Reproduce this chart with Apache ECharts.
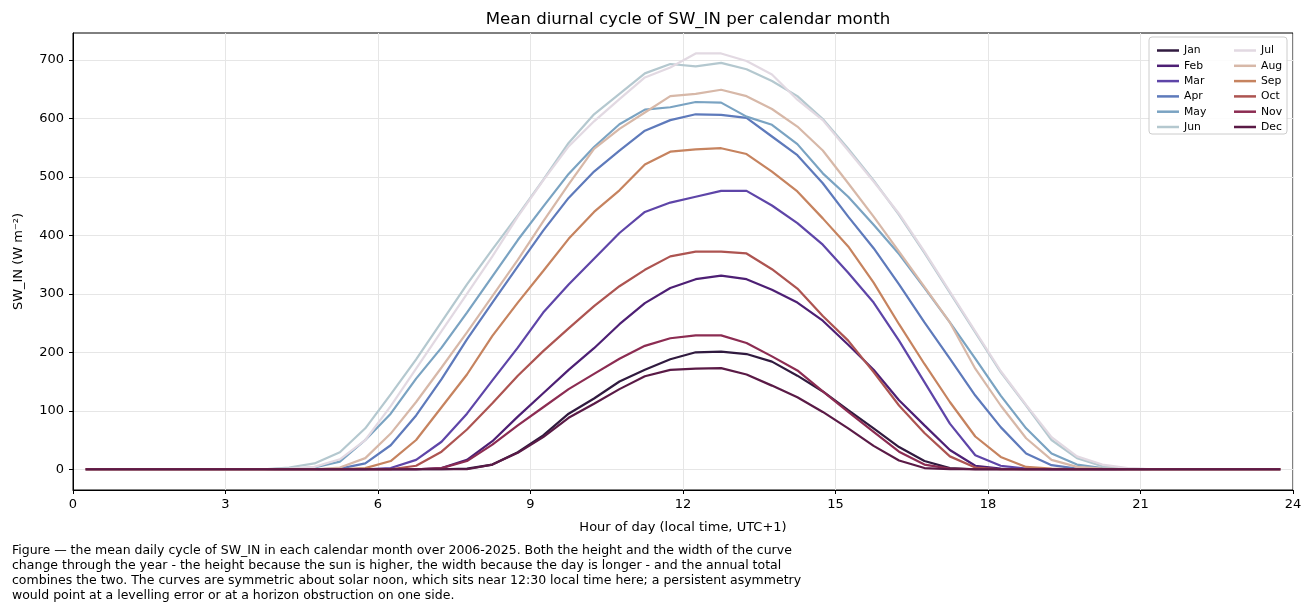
<!DOCTYPE html>
<html>
<head>
<meta charset="utf-8">
<title>Mean diurnal cycle of SW_IN</title>
<script src="https://cdn.jsdelivr.net/npm/echarts@6/dist/echarts.min.js"></script>
<style>
  html, body { margin: 0; padding: 0; background: #fff; }
  #chart { width: 1311px; height: 611px; }
</style>
</head>
<body>
<div id="chart"></div>
<script>
// half-hourly bin centres (local time, UTC+1)
const hours = [
  0.25, 0.75, 1.25, 1.75, 2.25, 2.75, 3.25, 3.75, 4.25, 4.75, 5.25, 5.75,
  6.25, 6.75, 7.25, 7.75, 8.25, 8.75, 9.25, 9.75, 10.25, 10.75, 11.25, 11.75,
  12.25, 12.75, 13.25, 13.75, 14.25, 14.75, 15.25, 15.75, 16.25, 16.75, 17.25, 17.75,
  18.25, 18.75, 19.25, 19.75, 20.25, 20.75, 21.25, 21.75, 22.25, 22.75, 23.25, 23.75
]

const months = ['Jan', 'Feb', 'Mar', 'Apr', 'May', 'Jun', 'Jul', 'Aug', 'Sep', 'Oct', 'Nov', 'Dec']

// mean SW_IN (W m-2) per half hour, one array per month
const jan = [0,0,0,0,0,0,0,0,0,0,0,0,0,0,0,1,8,29,58,95,121,150,170,188,200,201,197,184,160,133,101,70,38,14,2,0,0,0,0,0,0,0,0,0,0,0,0,0]
const feb = [0,0,0,0,0,0,0,0,0,0,0,0,0,0,2,16,48,90,130,170,207,248,284,310,325,331,325,307,285,254,213,170,118,75,33,6,1,0,0,0,0,0,0,0,0,0,0,0]
const mar = [0,0,0,0,0,0,0,0,0,0,0,0,2,16,47,95,152,208,268,316,360,404,440,456,466,476,476,451,421,384,336,285,220,149,78,24,6,1,0,0,0,0,0,0,0,0,0,0]
const apr = [0,0,0,0,0,0,0,0,0,0,1,10,41,92,154,222,285,347,408,464,509,545,579,597,607,606,601,569,537,489,432,378,316,251,189,126,72,27,7,1,0,0,0,0,0,0,0,0]
const may = [0,0,0,0,0,0,0,0,1,3,13,50,95,155,208,268,330,392,449,505,551,590,615,619,628,627,603,589,556,506,466,418,368,310,251,189,126,70,27,8,2,0,0,0,0,0,0,0]
const jun = [0,0,0,0,0,0,0,0,3,10,29,70,128,188,252,316,376,434,495,558,607,642,677,693,689,695,684,664,638,599,548,494,435,370,302,234,166,109,50,19,5,1,0,0,0,0,0,0]
const jul = [0,0,0,0,0,0,0,0,1,4,17,50,108,172,236,300,364,432,494,552,595,633,670,687,711,711,698,675,632,597,545,492,437,372,304,236,168,110,55,22,8,2,0,0,0,0,0,0]
const aug = [0,0,0,0,0,0,0,0,0,0,3,19,61,115,174,234,296,358,424,487,548,582,610,638,642,649,638,616,586,545,489,432,372,312,251,172,109,53,16,4,1,0,0,0,0,0,0,0]
const sep = [0,0,0,0,0,0,0,0,0,0,0,2,14,50,106,162,228,285,339,394,440,477,521,543,547,549,539,509,475,429,381,319,248,180,115,56,21,4,1,0,0,0,0,0,0,0,0,0]
const oct = [0,0,0,0,0,0,0,0,0,0,0,0,0,6,30,68,113,160,202,241,279,313,341,364,372,372,369,342,309,262,220,166,109,62,22,3,0,0,0,0,0,0,0,0,0,0,0,0]
const nov = [0,0,0,0,0,0,0,0,0,0,0,0,0,0,2,14,42,75,106,137,163,189,211,224,229,229,216,193,169,133,98,64,30,8,1,0,0,0,0,0,0,0,0,0,0,0,0,0]
const dec = [0,0,0,0,0,0,0,0,0,0,0,0,0,0,0,0,8,28,55,88,112,137,159,170,172,173,162,143,123,98,70,40,15,2,0,0,0,0,0,0,0,0,0,0,0,0,0,0]

const monthValues = [jan, feb, mar, apr, may, jun, jul, aug, sep, oct, nov, dec]

// twilight_shifted sampled per month
const monthColors = [
  '#301a3f', '#4d1f74', '#5e45a8', '#5e7abb', '#7aa3c2', '#b4c8cf',
  '#e2d9e2', '#d7b8a8', '#c6835f', '#ad5451', '#8c2c52', '#5a1a46'
]

const yTicks = [0, 100, 200, 300, 400, 500, 600, 700]

const caption = [
  'Figure \u2014 the mean daily cycle of SW_IN in each calendar month over 2006-2025. Both the height and the width of the curve',
  'change through the year - the height because the sun is higher, the width because the day is longer - and the annual total',
  'combines the two. The curves are symmetric about solar noon, which sits near 12:30 local time here; a persistent asymmetry',
  'would point at a levelling error or at a horizon obstruction on one side.'
].join('\n')

const font = 'DejaVu Sans'

const series = months.map((m, i) => ({
  name: m,
  type: 'line',
  data: hours.map((h, k) => [h, monthValues[i][k]]),
  symbol: 'none',
  color: monthColors[i],
  lineStyle: { width: 2.2, color: monthColors[i] },
  animation: false
}))

const legendBase = {
  orient: 'vertical',
  icon: 'rect',
  itemWidth: 22,
  itemHeight: 2.5,
  itemGap: 4.3,
  z: 10,
  textStyle: { fontFamily: font, fontSize: 10.8, color: '#000', lineHeight: 11 }
}

const option = {
  backgroundColor: '#fff',
  animation: false,
  title: {
    text: 'Mean diurnal cycle of SW_IN per calendar month',
    left: 683,
    top: 6,
    textAlign: 'center',
    textStyle: { fontFamily: font, fontSize: 16.6, fontWeight: 'normal', color: '#000' }
  },
  grid: {
    left: 73, right: 18, top: 33, bottom: 121,
    show: true, borderColor: '#000', borderWidth: 1
  },
  legend: [
    Object.assign({ data: months.slice(0, 6), left: 1152, top: 40 }, legendBase),
    Object.assign({ data: months.slice(6), left: 1229, top: 40 }, legendBase)
  ],
  xAxis: {
    type: 'value',
    min: 0,
    max: 24,
    interval: 3,
    name: 'Hour of day (local time, UTC+1)',
    nameLocation: 'middle',
    nameGap: 31,
    nameTextStyle: { fontFamily: font, fontSize: 13, color: '#000' },
    axisLine: { show: true, onZero: false, lineStyle: { color: '#000', width: 1 } },
    axisTick: { show: true, inside: false, length: 4, lineStyle: { color: '#000' } },
    axisLabel: { fontFamily: font, fontSize: 13, color: '#000', margin: 8, showMinLabel: true, showMaxLabel: true },
    splitLine: { show: true, lineStyle: { color: '#e6e6e6', width: 1 } }
  },
  yAxis: {
    type: 'value',
    min: -35.5,
    max: 746,
    name: 'SW_IN (W m\u207b\u00b2)',
    nameLocation: 'middle',
    nameRotate: 90,
    nameGap: 48,
    nameTextStyle: { fontFamily: font, fontSize: 13, color: '#000' },
    axisLine: { show: true, onZero: false, lineStyle: { color: '#000', width: 1 } },
    axisTick: { show: true, inside: false, length: 4, customValues: yTicks, lineStyle: { color: '#000' } },
    axisLabel: { fontFamily: font, fontSize: 13, color: '#000', margin: 9, customValues: yTicks },
    splitLine: { show: true, lineStyle: { color: '#e6e6e6', width: 1 } }
  },
  graphic: [
    {
      type: 'rect',
      z: 9,
      shape: { x: 1149, y: 37, width: 138, height: 97, r: 3 },
      style: { fill: 'rgba(255,255,255,0.85)', stroke: '#cccccc', lineWidth: 1 }
    },
    {
      type: 'text',
      left: 12,
      top: 543,
      style: {
        text: caption,
        fontFamily: font,
        fontSize: 12.5,
        lineHeight: 15,
        fill: '#000'
      }
    }
  ],
  series: series
}

const chart = echarts.init(document.getElementById('chart'))
chart.setOption(option)
window.addEventListener('resize', () => {
  chart.resize()
})
</script>
</body>
</html>
